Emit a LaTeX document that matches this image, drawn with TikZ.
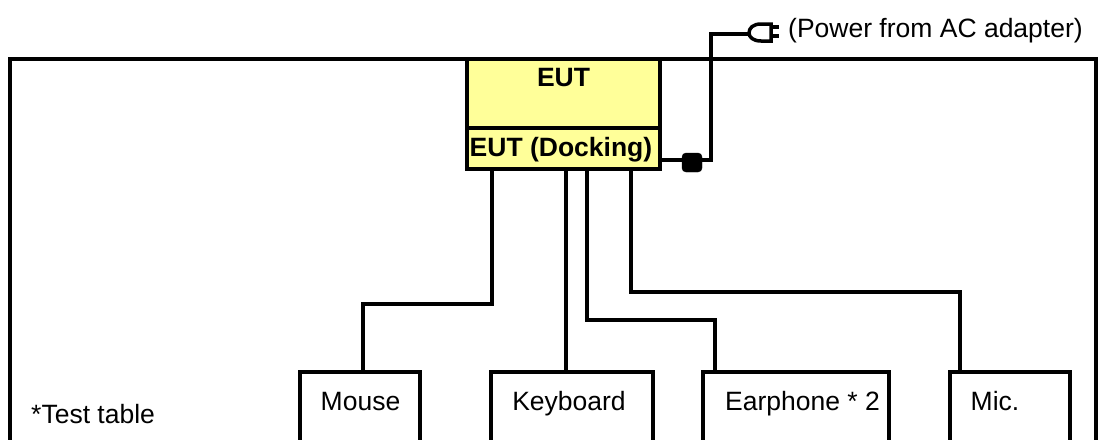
\documentclass[tikz,border=0pt]{standalone}
\usepackage{fontspec}
\setmainfont{Liberation Sans}
\begin{document}
\begin{tikzpicture}[x=1pt,y=-1pt,
  wire/.style={line width=4pt,line join=miter},
  eutbox/.style={draw,line width=4pt,fill=eutfill,inner sep=0pt,outer sep=0pt,anchor=north west},
  devbox/.style={draw,line width=4pt,fill=white,inner sep=0pt,outer sep=0pt,anchor=north west,minimum height=120pt},
  lbl/.style={inner sep=0pt,font=\fontsize{26.5pt}{30pt}\selectfont,anchor=base},
  blbl/.style={lbl,font=\fontsize{26.5pt}{30pt}\selectfont\bfseries}]
\definecolor{eutfill}{RGB}{255,255,153}
\useasboundingbox (0,0) rectangle (1100,439);
\clip (0,0) rectangle (1100,439);
\node[draw,line width=4pt,anchor=north west,inner sep=0pt,outer sep=0pt,minimum width=1086pt,minimum height=420pt] (table) at (10,59) {};
\coordinate (bend1) at (711,160);
\coordinate (bend2) at (711,34);
\node[eutbox,minimum width=193pt,minimum height=70pt] (eut) at (467,59) {};
\node[eutbox,minimum width=193pt,minimum height=41pt] (dock) at (467,128) {};
\node[blbl] (eutl) at (563.5,86) {EUT};
\node[blbl] (dockl) at (561,156) {EUT (Docking)};
\node[devbox,minimum width=120pt] (mouse) at (300,372) {};
\node[devbox,minimum width=162pt] (kbd) at (491,372) {};
\node[devbox,minimum width=186pt] (ear) at (703,372) {};
\node[devbox,minimum width=120pt] (mic) at (950,372) {};
\node[lbl] (mousel) at (360.5,410) {Mouse};
\node[lbl] (kbdl) at (569,410) {Keyboard};
\node[lbl] (earl) at (802.5,410) {Earphone * 2};
\node[lbl] (micl) at (995,410) {Mic.};
\node[lbl,anchor=base west] (testl) at (31,423) {*Test table};
\node[lbl,anchor=base west] (powl) at (788,37.5) {(Power from AC adapter)};
\node[draw=black,fill=black,rounded corners=4pt,minimum width=20pt,minimum height=19pt,inner sep=0pt] (ferrite) at (692,162.5) {};
\coordinate (plugc) at (749,34);
\draw[line width=3.5pt,fill=white] (771,24) -- (761,24) .. controls (753,24) and (749,28) .. (749,33) .. controls (749,37) and (753,41) .. (761,41) -- (771,41) -- cycle;
\draw[line width=3.5pt] (771,27) -- (779,27) (771,36) -- (779,36);
\draw[wire] (dock.east |- bend1) -- (ferrite.west |- bend1);
\draw[wire] (ferrite.east |- bend1) -- (bend1) -- (bend2) -- (plugc);
\coordinate (mt) at (492,304);
\coordinate (kt) at (566,372);
\coordinate (et) at (587,320);
\coordinate (it) at (631,292);
\draw[wire] (dock.south -| mt) -- (mt) -- (mt -| 363,0) -- (mouse.north -| 363,0);
\draw[wire] (dock.south -| kt) -- (kt);
\draw[wire] (dock.south -| et) -- (et) -- (et -| 715,0) -- (ear.north -| 715,0);
\draw[wire] (dock.south -| it) -- (it) -- (it -| 960,0) -- (mic.north -| 960,0);
\end{tikzpicture}
\end{document}
